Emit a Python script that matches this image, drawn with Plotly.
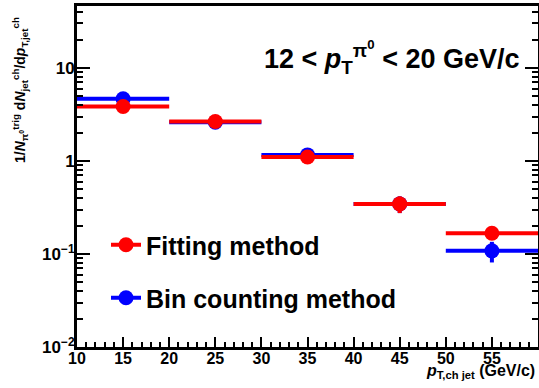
import plotly.graph_objects as go

# ---- data ----
bin_centers = [15, 25, 35, 45, 55]
bin_halfwidths = [5, 5, 5, 5, 5]
fit_values = [3.85, 2.65, 1.10, 0.345, 0.167]
fit_errors = [0.12, 0.08, 0.04, 0.07, 0.01]
count_values = [4.65, 2.60, 1.16, 0.345, 0.108]
count_errors = [0.12, 0.08, 0.04, 0.07, 0.027]

x_tick_vals = [10, 15, 20, 25, 30, 35, 40, 45, 50, 55, 60]
x_tick_text = ["10", "15", "20", "25", "30", "35", "40", "45", "50", "55", "60"]
y_tick_vals = [0.01, 0.1, 1, 10]
y_tick_text = ["10<sup>\u22122</sup>", "10<sup>\u22121</sup>", "1", "10"]

RED = "rgb(255,0,0)"
BLUE = "rgb(0,0,255)"
FONT = "Liberation Sans, Arial, Helvetica, sans-serif"

fig = go.Figure()

def add_series(values, errors, color, name, legend):
    fig.add_trace(go.Scatter(
        x=bin_centers, y=values, mode="markers",
        marker=dict(color=color, size=15, symbol="circle"),
        error_x=dict(type="data", array=bin_halfwidths, color=color, thickness=4, width=0),
        error_y=dict(type="data", array=errors, color=color, thickness=4, width=0),
        showlegend=False, hoverinfo="x+y",
    ))
    # legend entry (marker with horizontal line)
    fig.add_trace(go.Scatter(
        x=[None], y=[None], mode="lines+markers", name=name,
        line=dict(color=color, width=4),
        marker=dict(color=color, size=15),
        showlegend=True, legend=legend,
    ))

add_series(count_values, count_errors, BLUE, "Bin counting method", "legend2")
add_series(fit_values, fit_errors, RED, "Fitting method", "legend")

W, H = 539, 388
L, R, T, B = 77, 1, 6, 41
pw, ph = W - L - R, H - T - B

def px(x):
    return (x - L) / pw

def py(y):
    return 1 - (y - T) / ph

minor_y = [m * 10 ** e for e in range(-2, 2) for m in range(2, 10)]

legend_style = dict(xanchor="left", yanchor="middle", bgcolor="rgba(0,0,0,0)",
                    font=dict(size=25, weight="bold"), itemwidth=30, tracegroupgap=0)

fig.update_layout(
    width=W, height=H,
    margin=dict(l=L, r=R, t=T, b=B, autoexpand=False),
    paper_bgcolor="white", plot_bgcolor="white",
    font=dict(family=FONT, color="black", size=16, weight="bold"),
    legend=dict(x=px(106), y=py(245), **legend_style),
    legend2=dict(x=px(106), y=py(298), **legend_style),
    xaxis=dict(
        range=[10, 60], showgrid=False, zeroline=False, automargin=False,
        showline=True, linecolor="black", linewidth=3, mirror=True,
        ticks="inside", ticklen=10, tickwidth=2, tickcolor="black",
        tickmode="array", tickvals=x_tick_vals, ticktext=x_tick_text,
        tickfont=dict(size=16, weight="bold"), ticklabelstandoff=-5,
        minor=dict(ticks="inside", ticklen=5, tickwidth=2, dtick=1, tick0=10, tickcolor="black", showgrid=False),
    ),
    yaxis=dict(
        type="log", range=[-2, 1.665], showgrid=False, zeroline=False, automargin=False,
        showline=True, linecolor="black", linewidth=3, mirror="allticks",
        ticks="inside", ticklen=13, tickwidth=2, tickcolor="black",
        tickmode="array", tickvals=y_tick_vals, ticktext=y_tick_text,
        tickfont=dict(size=17, weight="bold"), ticklabelstandoff=-4,
        minor=dict(ticks="inside", ticklen=6, tickwidth=2, tickmode="array", tickvals=minor_y,
                   tickcolor="black", showgrid=False),
    ),
)

fig.add_annotation(
    xref="paper", yref="paper", x=px(392), y=py(58), xanchor="center", yanchor="middle",
    text="12 < <i>p</i><sub>T</sub><sup>\u03c0<sup>0</sup></sup> < 20 GeV/c",
    showarrow=False, font=dict(size=27, weight="bold"),
)
fig.add_annotation(
    xref="paper", yref="paper", x=px(537), y=py(371), xanchor="right", yanchor="middle",
    text="<i>p</i><sub>T,ch jet</sub> (GeV/c)",
    showarrow=False, font=dict(size=16, weight="bold"),
)
fig.add_annotation(
    xref="paper", yref="paper", x=px(20), y=py(15), xanchor="center", yanchor="top",
    text="1/<i>N</i><sub>\u03c0<sup>0</sup></sub><sup>trig</sup> d<i>N</i><sub>jet</sub><sup>ch</sup>/d<i>p</i><sub>T,jet</sub><sup>ch</sup>",
    textangle=-90, showarrow=False, font=dict(size=14, weight="bold"),
)

fig.write_html("out.html", config={"displayModeBar": False},
               post_script="document.body.style.margin='0';document.body.style.overflow='hidden';")
